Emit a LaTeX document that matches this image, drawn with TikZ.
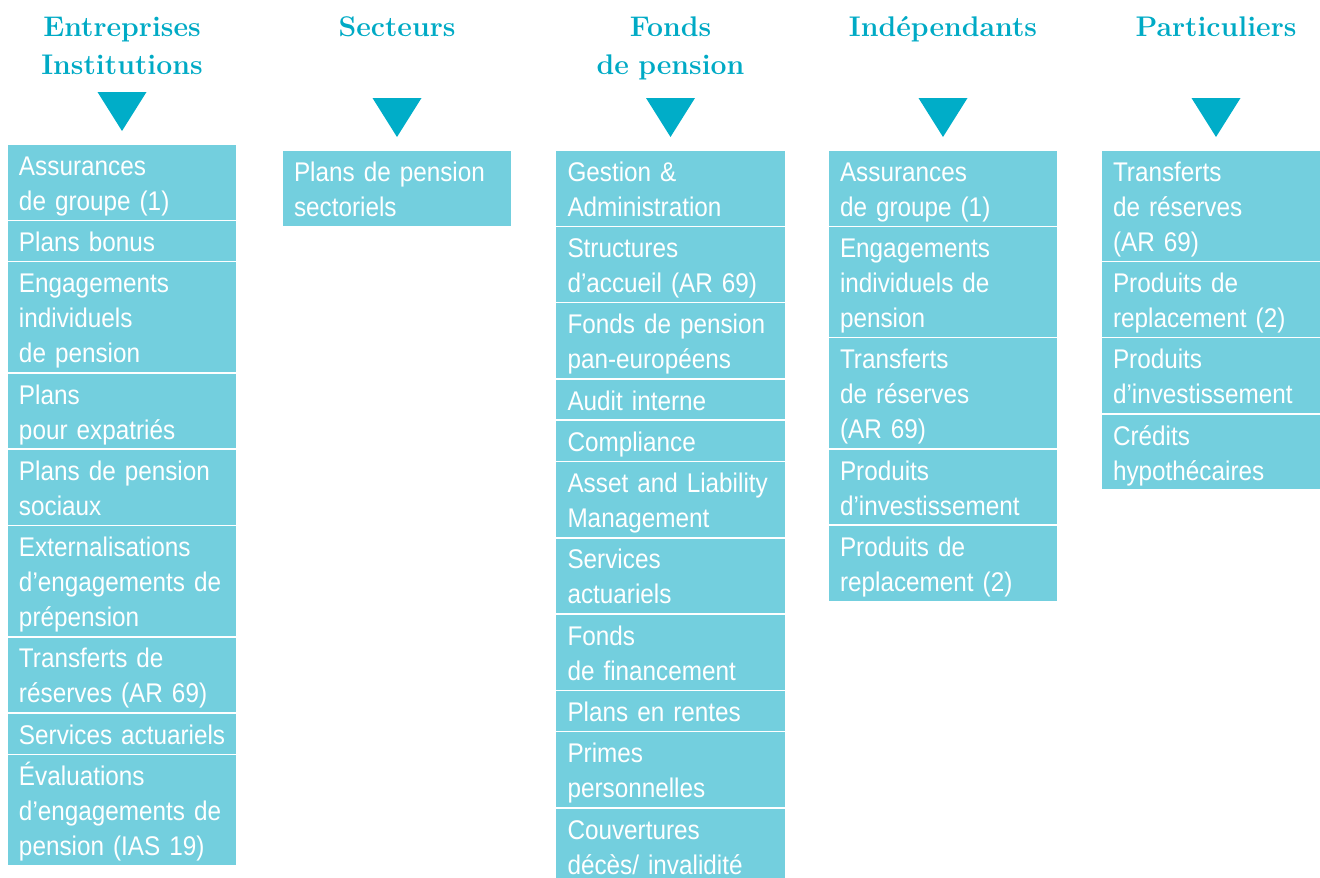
\documentclass[tikz,border=0pt]{standalone}
\usepackage{fontspec}
\newfontfamily\cellfnt{Liberation Sans}[FakeStretch=0.9]
\definecolor{cellc}{RGB}{115,207,222}
\definecolor{tric}{RGB}{0,173,200}
\definecolor{hdrc}{RGB}{0,170,197}
\newcommand\cellstrut{\rule[-7pt]{0pt}{35pt}}
\newcommand\hdrstrut{\rule[-10pt]{0pt}{38pt}}
\tikzset{
  cell/.style={fill=cellc, draw=white, line width=1.5pt, outer sep=0pt, anchor=north west,
    text width=206pt, inner xsep=12pt, inner ysep=3.15pt, align=left, text=white,
    font={\cellfnt\fontsize{27}{35}\selectfont},
    execute at begin node={\rightskip=-30pt plus 1fil\cellstrut}, execute at end node=\cellstrut},
  hdr/.style={anchor=north, inner sep=0pt, text width=250pt, align=center, text=hdrc,
    font={\rmfamily\bfseries\fontsize{28.4}{38}\selectfont},
    execute at begin node=\hdrstrut, execute at end node=\hdrstrut},
  tri/.style={fill=tric}
}
\begin{document}
\begin{tikzpicture}[x=1pt,y=-1pt]
\clip (0,0) rectangle (1320,878);
% headers
\node[hdr] (h1) at (122,8) {Entreprises\\Institutions};
\node[hdr] (h2) at (397,8) {Secteurs};
\node[hdr] (h3) at (670.5,8) {Fonds\\de pension};
\node[hdr] (h4) at (943,8) {Indépendants};
\node[hdr] (h5) at (1216,8) {Particuliers};
% triangles
\fill[tri] (97.5,92) -- (146.5,92) -- (122,131) -- cycle;
\fill[tri] (372.5,98) -- (421.5,98) -- (397,137) -- cycle;
\fill[tri] (646,98) -- (695,98) -- (670.5,137) -- cycle;
\fill[tri] (918.5,98) -- (967.5,98) -- (943,137) -- cycle;
\fill[tri] (1191.5,98) -- (1240.5,98) -- (1216,137) -- cycle;
% column 1
\node[cell] (a1) at (7,144) {Assurances\\de groupe (1)};
\node[cell] (a2) at (a1.south west) {Plans bonus};
\node[cell] (a3) at (a2.south west) {Engagements\\individuels\\de pension};
\node[cell] (a4) at (a3.south west) {Plans\\pour expatriés};
\node[cell] (a5) at (a4.south west) {Plans de pension\\sociaux};
\node[cell] (a6) at (a5.south west) {Externalisations\\d’engagements de\\prépension};
\node[cell] (a7) at (a6.south west) {Transferts de\\réserves (AR 69)};
\node[cell] (a8) at (a7.south west) {Services actuariels};
\node[cell] (a9) at (a8.south west) {Évaluations\\d’engagements de\\pension (IAS 19)};
% column 2
\node[cell] (b1) at (282,150) {Plans de pension\\sectoriels};
% column 3
\node[cell] (c1) at (555.5,150) {Gestion \&\\Administration};
\node[cell] (c2) at (c1.south west) {Structures\\d’accueil (AR 69)};
\node[cell] (c3) at (c2.south west) {Fonds de pension\\pan-européens};
\node[cell] (c4) at (c3.south west) {Audit interne};
\node[cell] (c5) at (c4.south west) {Compliance};
\node[cell] (c6) at (c5.south west) {Asset and Liability\\Management};
\node[cell] (c7) at (c6.south west) {Services\\actuariels};
\node[cell] (c8) at (c7.south west) {Fonds\\de financement};
\node[cell] (c9) at (c8.south west) {Plans en rentes};
\node[cell] (c10) at (c9.south west) {Primes\\personnelles};
\node[cell] (c11) at (c10.south west) {Couvertures\\décès/ invalidité};
% column 4
\node[cell] (d1) at (828,150) {Assurances\\de groupe (1)};
\node[cell] (d2) at (d1.south west) {Engagements\\individuels de\\pension};
\node[cell] (d3) at (d2.south west) {Transferts\\de réserves\\(AR 69)};
\node[cell] (d4) at (d3.south west) {Produits\\d’investissement};
\node[cell] (d5) at (d4.south west) {Produits de\\replacement (2)};
% column 5
\node[cell] (e1) at (1101,150) {Transferts\\de réserves\\(AR 69)};
\node[cell] (e2) at (e1.south west) {Produits de\\replacement (2)};
\node[cell] (e3) at (e2.south west) {Produits\\d’investissement};
\node[cell] (e4) at (e3.south west) {Crédits\\hypothécaires};
\end{tikzpicture}
\end{document}
